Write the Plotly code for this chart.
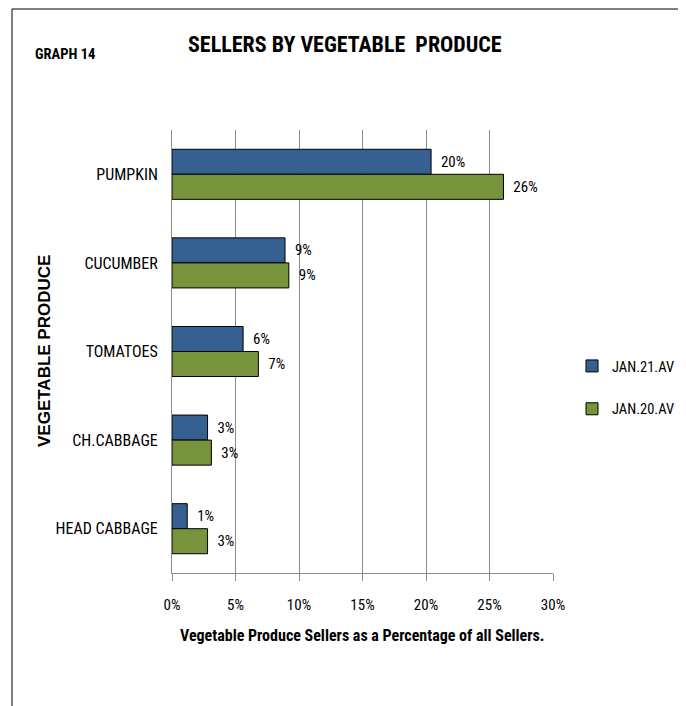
import plotly.graph_objects as go

categories = ["PUMPKIN", "CUCUMBER", "TOMATOES", "CH.CABBAGE", "HEAD CABBAGE"]
jan21 = [0.204, 0.089, 0.056, 0.028, 0.012]
jan20 = [0.261, 0.092, 0.068, 0.031, 0.028]
xticks = [0, 0.05, 0.10, 0.15, 0.20, 0.25, 0.30]
xticklabels = ["0%", "5%", "10%", "15%", "20%", "25%", "30%"]

NARROW = "Roboto Condensed, Liberation Sans Narrow, sans-serif"
WIDE = "Liberation Sans, Arial, sans-serif"

# page body offset (browser default margin)
OFF = 8
W, H = 720, 706
# plot area in window coordinates
PX0, PX1, PY0, PY1 = 172, 553, 130, 573
L = PX0 - OFF
T = PY0 - OFF
R = W - (PX1 - OFF)
B = H - (PY1 - OFF)
pw, ph = PX1 - PX0, PY1 - PY0

def px(xw):
    return (xw - PX0) / pw

def py(yw):
    return (PY1 - yw) / ph

fig = go.Figure()
fig.add_trace(go.Bar(
    y=categories, x=jan21, name="JAN.21.AV", orientation="h",
    marker=dict(color="#376092", line=dict(color="black", width=1)),
    texttemplate="\u00a0\u00a0%{x:.0%}", textposition="outside", cliponaxis=False,
    textfont=dict(family=NARROW, size=15, color="black"), legendgroup="a",
))
fig.add_trace(go.Bar(
    y=categories, x=jan20, name="JAN.20.AV", orientation="h",
    marker=dict(color="#77933C", line=dict(color="black", width=1)),
    texttemplate="\u00a0\u00a0%{x:.0%}", textposition="outside", cliponaxis=False,
    textfont=dict(family=NARROW, size=15, color="black"), legendgroup="b",
))

fig.update_layout(
    width=W, height=H,
    margin=dict(l=L, r=R, t=T, b=B),
    paper_bgcolor="white", plot_bgcolor="white",
    barmode="group", bargap=0.435, bargroupgap=0,
    font=dict(family=NARROW, size=15, color="black"),
    showlegend=True,
    legend=dict(x=px(572), y=py(350), xanchor="left", yanchor="top",
                font=dict(family=NARROW, size=14.5, color="black"),
                tracegroupgap=21, bgcolor="rgba(0,0,0,0)"),
    xaxis=dict(range=[0, 0.30], tickvals=xticks, ticktext=xticklabels,
               showgrid=True, gridcolor="#8C8C8C", gridwidth=1,
               showline=True, linecolor="#8C8C8C", linewidth=1,
               ticks="outside", ticklen=7, tickcolor="#8C8C8C",
               ticklabelstandoff=11, zeroline=False,
               tickfont=dict(family=NARROW, size=15, color="black")),
    yaxis=dict(autorange="reversed", showgrid=False,
               showline=True, linecolor="#8C8C8C", linewidth=1,
               ticks="", ticklabelstandoff=10,
               tickfont=dict(family=NARROW, size=16, color="black")),
    annotations=[
        dict(text="<b>SELLERS BY VEGETABLE  PRODUCE</b>", xref="paper", yref="paper",
             x=px(345), y=py(45), xanchor="center", yanchor="middle", showarrow=False,
             font=dict(family=NARROW, size=22, color="black")),
        dict(text="<b>GRAPH 14</b>", xref="paper", yref="paper",
             x=px(65), y=py(54), xanchor="center", yanchor="middle", showarrow=False,
             font=dict(family=NARROW, size=14.5, color="black")),
        dict(text="<b>VEGETABLE PRODUCE</b>", xref="paper", yref="paper",
             x=px(44), y=py(351), xanchor="center", yanchor="middle",
             showarrow=False, textangle=-90,
             font=dict(family=WIDE, size=17, color="black")),
        dict(text="<b>Vegetable Produce Sellers as a Percentage of all Sellers.</b>",
             xref="paper", yref="paper", x=px(362), y=py(635),
             xanchor="center", yanchor="middle", showarrow=False,
             font=dict(family=NARROW, size=16, color="black")),
    ],
    shapes=[
        dict(type="rect", xref="paper", yref="paper",
             x0=px(12), x1=px(681), y0=py(740), y1=py(9),
             line=dict(color="black", width=1), fillcolor="rgba(0,0,0,0)"),
    ],
)

fig.write_html("out.html")
